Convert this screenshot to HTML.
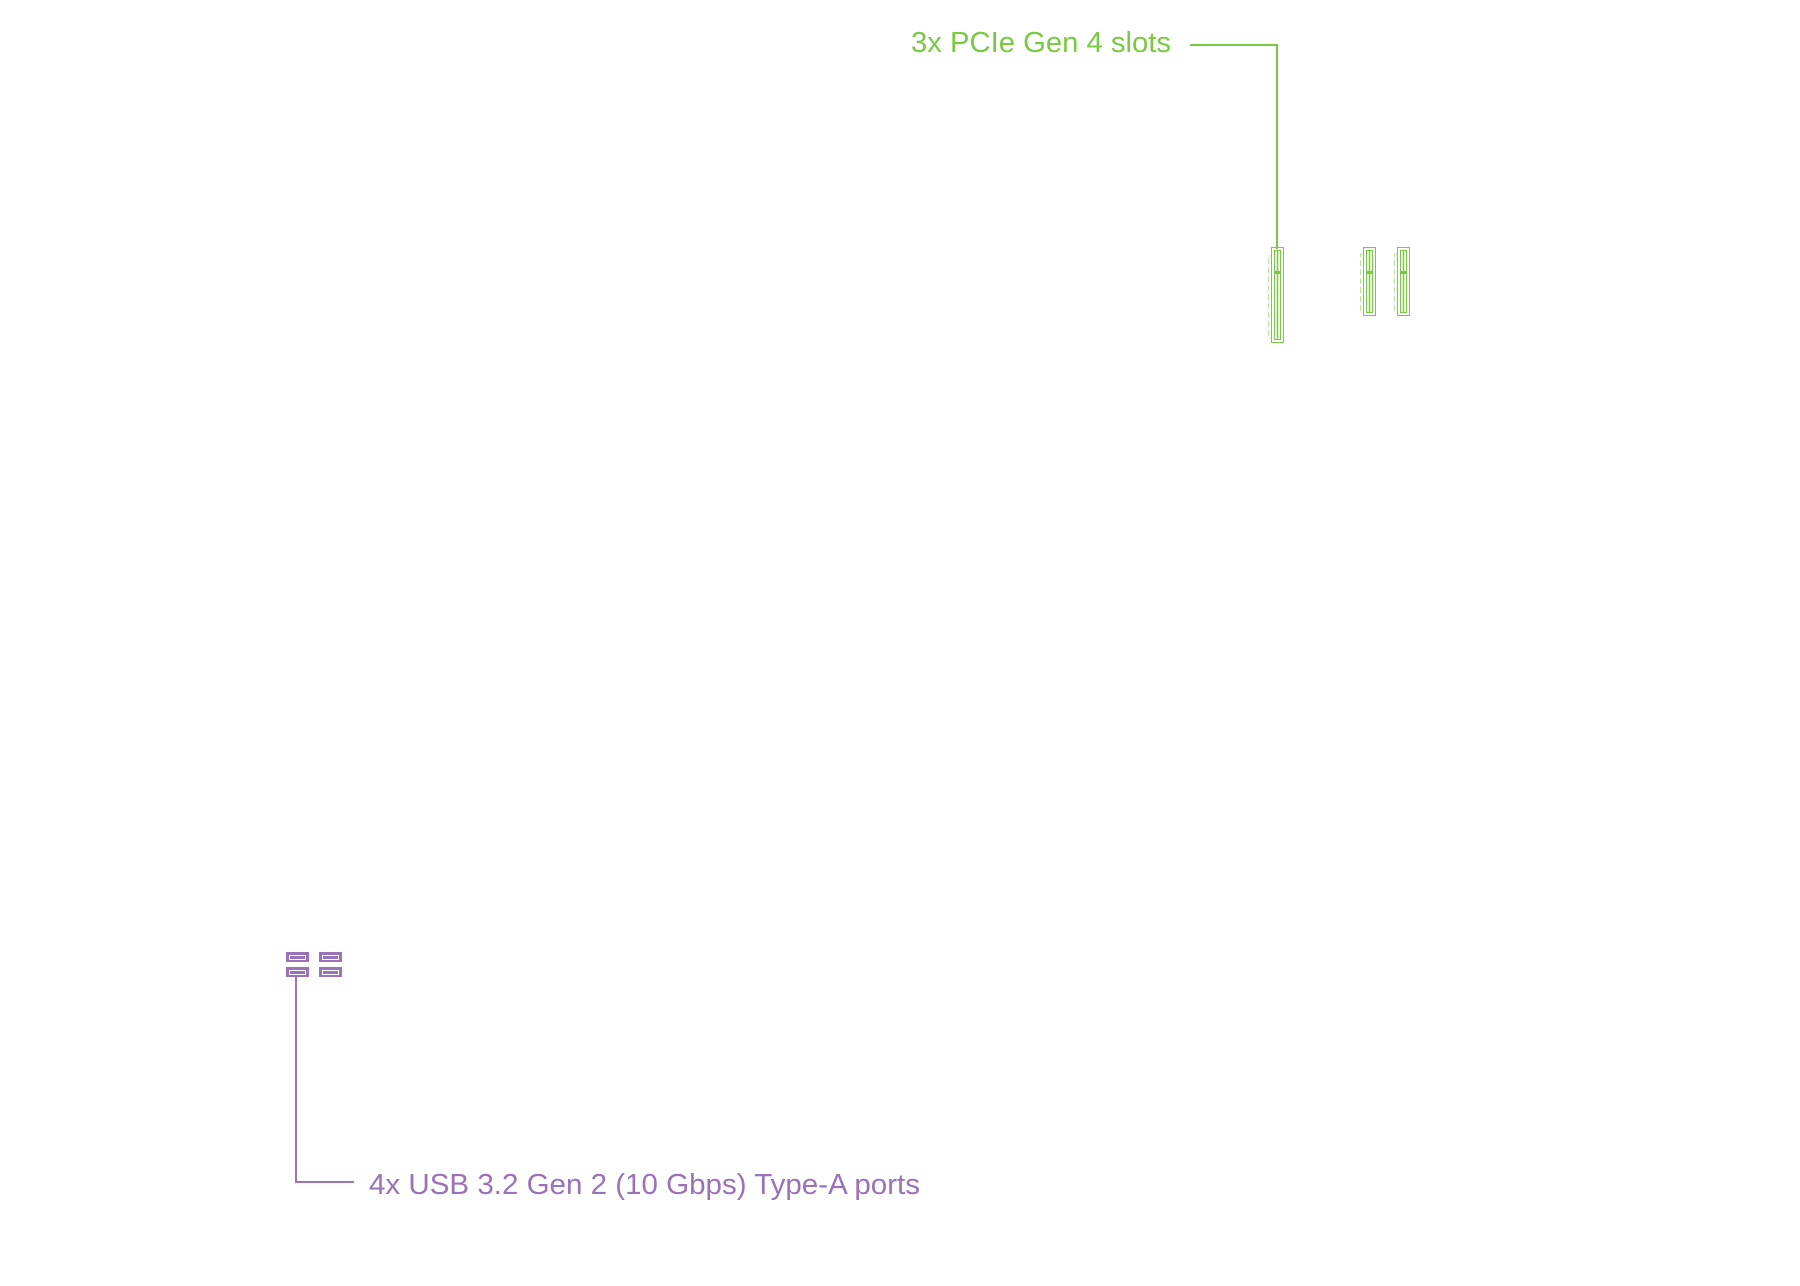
<!DOCTYPE html>
<html><head><meta charset="utf-8"><style>
html,body{margin:0;padding:0;background:#fff;}
svg{display:block;}
text{font-family:"Liberation Sans",sans-serif;}
</style></head><body>
<svg width="1800" height="1286" viewBox="0 0 1800 1286" xmlns="http://www.w3.org/2000/svg">
<g fill="none" stroke="#7ac943">
  <path d="M1190 45 H1277 V249" stroke-width="2"/>
  <!-- slot 1 -->
  <rect x="1271.5" y="247.5" width="12" height="95"/>
  <rect x="1274.5" y="250.5" width="6" height="89" stroke-width="1"/>
  <line x1="1277.5" y1="250" x2="1277.5" y2="340" stroke-width="1.5"/>
  <rect x="1268.5" y="256" width="3" height="82" stroke-opacity="0.5" stroke-dasharray="6 3"/>
  <rect x="1274" y="271" width="7" height="3" fill="#7ac943" stroke="none"/>
  <!-- slot 2 -->
  <rect x="1363.5" y="247.5" width="12" height="68"/>
  <rect x="1366.5" y="250.5" width="6" height="62" stroke-width="1"/>
  <line x1="1369.5" y1="250" x2="1369.5" y2="313" stroke-width="1.5"/>
  <rect x="1360.5" y="254" width="3" height="57" stroke-opacity="0.5" stroke-dasharray="6 3"/>
  <rect x="1366" y="271" width="7" height="3" fill="#7ac943" stroke="none"/>
  <!-- slot 3 -->
  <rect x="1397.5" y="247.5" width="12" height="68"/>
  <rect x="1400.5" y="250.5" width="6" height="62" stroke-width="1"/>
  <line x1="1403.5" y1="250" x2="1403.5" y2="313" stroke-width="1.5"/>
  <rect x="1394.5" y="254" width="3" height="57" stroke-opacity="0.5" stroke-dasharray="6 3"/>
  <rect x="1400" y="271" width="7" height="3" fill="#7ac943" stroke="none"/>
</g>
<text x="911" y="52" font-size="29" fill="#7ac943" textLength="260" lengthAdjust="spacingAndGlyphs">3x PCIe Gen 4 slots</text>

<g fill="#9a72b8">
  <rect x="286" y="952" width="23" height="10"/>
  <rect x="319" y="952" width="23" height="10"/>
  <rect x="286" y="967" width="23" height="10"/>
  <rect x="319" y="967" width="23" height="10"/>
</g>
<g stroke="#ffffff" stroke-width="1" fill="none">
  <rect x="289.5" y="955.5" width="16" height="4"/>
  <rect x="322.5" y="955.5" width="16" height="4"/>
  <rect x="289.5" y="970.5" width="16" height="4"/>
  <rect x="322.5" y="970.5" width="16" height="4"/>
</g>
<path d="M296 977 V1182 H354" fill="none" stroke="#9a72b8" stroke-width="2"/>
<text x="369" y="1194" font-size="29" fill="#9a72b8" textLength="551" lengthAdjust="spacingAndGlyphs">4x USB 3.2 Gen 2 (10 Gbps) Type-A ports</text>
</svg>
</body></html>
